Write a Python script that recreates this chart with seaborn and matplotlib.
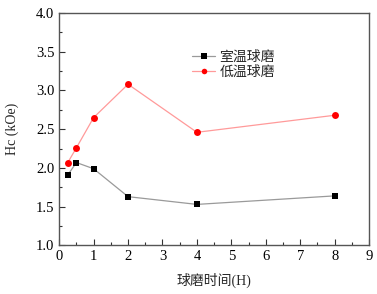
import numpy as np
import pandas as pd
import matplotlib
matplotlib.use("Agg")
import matplotlib.pyplot as plt
import seaborn as sns

# milling time (h) and coercivity Hc (kOe)
hours = [0.25, 0.5, 1, 2, 4, 8]
hc_room = [1.91, 2.07, 1.99, 1.63, 1.53, 1.64]
hc_cold = [2.07, 2.26, 2.65, 3.08, 2.46, 2.68]
series_names = ['室温球磨', '低温球磨']

df = pd.DataFrame({
    'hours': hours * 2,
    'hc': hc_room + hc_cold,
    'kind': [series_names[0]] * len(hours) + [series_names[1]] * len(hours),
})

sns.set_style("ticks")
plt.rcParams['font.family'] = ['Liberation Serif', 'Noto Sans CJK SC']
plt.rcParams['xtick.direction'] = 'in'
plt.rcParams['ytick.direction'] = 'in'

fig = plt.figure(figsize=(3.77, 2.94), dpi=100)
ax = fig.add_axes([0.157, 0.165, 0.822, 0.791])

sns.lineplot(data=df, x='hours', y='hc', hue='kind', style='kind',
             palette={series_names[0]: '#9a9a9a', series_names[1]: '#ff9a9a'},
             markers={series_names[0]: 's', series_names[1]: 'o'},
             dashes=False, linewidth=0.9, markersize=5, ax=ax,
             markeredgewidth=0)

# line faint, marker solid
mcolors = {series_names[0]: 'black', series_names[1]: 'red'}
for line, name in zip(ax.lines[:2], series_names):
    line.set_markerfacecolor(mcolors[name])
    line.set_markeredgecolor(mcolors[name])

ax.set_xlim(0, 9)
ax.set_ylim(1.0, 4.0)
ax.set_xticks(range(0, 10))
ax.set_xticks(np.arange(0.5, 9, 1), minor=True)
ax.set_yticks(np.arange(1.0, 4.01, 0.5))
ax.set_yticks(np.arange(1.25, 4, 0.5), minor=True)
ax.yaxis.set_major_formatter(matplotlib.ticker.FormatStrFormatter('%.1f'))
ax.tick_params(which='major', length=4, width=0.8, labelsize=10.5, colors='#333333', labelcolor='black')
ax.tick_params(which='minor', length=2, width=0.8, colors='#333333')
for s in ax.spines.values():
    s.set_color('#555555')
    s.set_linewidth(1.0)

ax.set_xlabel('球磨时间(H)', fontsize=10, labelpad=7)
ax.set_ylabel('Hc (kOe)', fontsize=10, labelpad=12)

handles, labels = ax.get_legend_handles_labels()
for h, name in zip(handles, labels):
    h.set_markerfacecolor(mcolors[name])
    h.set_markeredgecolor(mcolors[name])
    h.set_markersize(4)
leg = ax.legend(handles, labels, loc='upper left', bbox_to_anchor=(0.41, 0.86),
                frameon=False, fontsize=10, handlelength=1.7, handletextpad=0.3,
                labelspacing=0.1, borderaxespad=0)

fig.savefig('out.png', dpi=100)
